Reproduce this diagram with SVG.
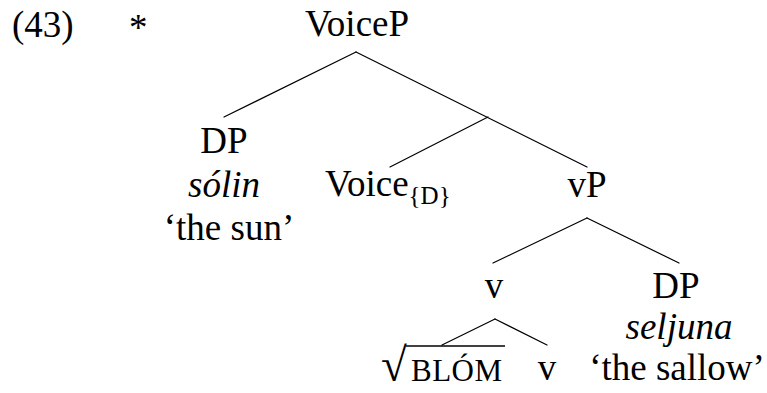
<svg xmlns="http://www.w3.org/2000/svg" width="767" height="393" viewBox="0 0 767 393">
<style>
text{font-family:"Liberation Serif","Times New Roman",serif;font-size:37px;fill:#000}
.c{text-anchor:middle}
.i{font-style:italic}
.sub{font-size:25px}
.sc{font-size:31px;letter-spacing:0.5px}
.rad{font-size:47px}
#edges line{stroke:#000;stroke-width:1.2;stroke-linecap:round}
</style>
<rect width="767" height="393" fill="#fff"/>
<g id="label">
<text x="12" y="37">(43)</text>
<text x="129" y="40">*</text>
</g>
<g id="edges">
<line x1="356" y1="52" x2="224" y2="117"/>
<line x1="356" y1="52" x2="587" y2="167"/>
<line x1="488" y1="117" x2="390" y2="167"/>
<line x1="587" y1="218" x2="493" y2="263"/>
<line x1="587" y1="218" x2="679" y2="263"/>
<line x1="495" y1="319" x2="442" y2="345"/>
<line x1="495" y1="319" x2="547" y2="345"/>
</g>
<g id="voiceP"><text class="c" x="357" y="36">VoiceP</text></g>
<g id="dp1">
<text class="c" x="224" y="153">DP</text>
<text class="c i" x="224" y="197">sólin</text>
<text class="c" x="229" y="240">‘the sun’</text>
</g>
<g id="voice"><text x="325" y="196">Voice<tspan class="sub" dy="8">{D}</tspan></text></g>
<g id="vP"><text class="c" x="587" y="197">vP</text></g>
<g id="v1"><text class="c" x="494" y="298">v</text></g>
<g id="dp2">
<text class="c" x="676" y="298">DP</text>
<text class="c i" x="679" y="339">seljuna</text>
<text class="c" x="677" y="380">‘the sallow’</text>
</g>
<g id="root">
<text class="rad" x="381" y="381">√</text>
<line x1="406" y1="346" x2="505" y2="346" stroke="#000" stroke-width="1.5"/>
<text class="sc" x="411" y="381">BLÓM</text>
</g>
<g id="v2"><text class="c" x="547" y="380">v</text></g>
</svg>
